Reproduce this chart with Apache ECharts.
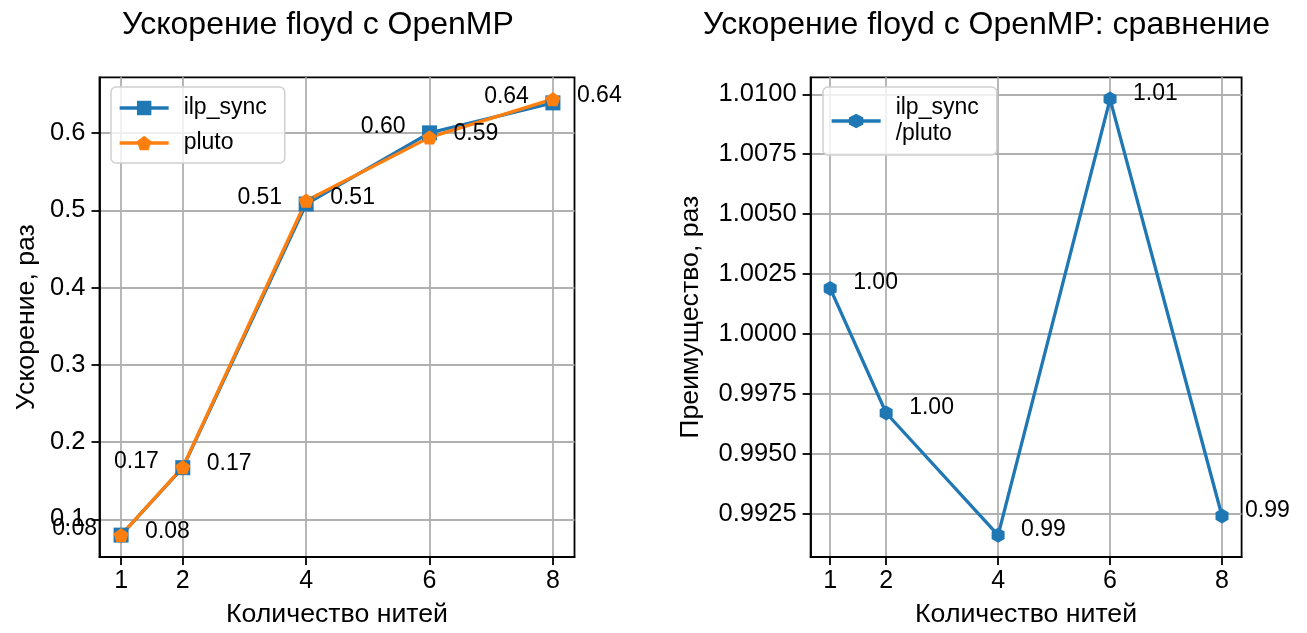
<!DOCTYPE html>
<html>
<head>
<meta charset="utf-8">
<script src="https://cdn.jsdelivr.net/npm/echarts@6/dist/echarts.min.js"></script>
<style>
  html, body { margin: 0; padding: 0; background: #fff; }
  #chart { width: 1307px; height: 633px; }
</style>
</head>
<body>
<div id="chart"></div>
<script>
// Thread counts and measured speedups
const threads = [1, 2, 4, 6, 8];
const ilpSync = [0.0796, 0.1669, 0.5082, 0.6003, 0.6391];
const pluto = [0.0795, 0.1675, 0.5125, 0.5945, 0.6440];
// ilp_sync / pluto advantage
const ratio = [1.0019, 0.9967, 0.9916, 1.0098, 0.9924];

const speedupTicks = [0.1, 0.2, 0.3, 0.4, 0.5, 0.6];
const ratioTicks = [0.9925, 0.9950, 0.9975, 1.0000, 1.0025, 1.0050, 1.0075, 1.0100];

const FONT = 'Liberation Sans';
const BLUE = '#1f77b4';
const ORANGE = '#ff7f0e';
const PENTAGON = 'path://M0,-1L0.951,-0.309L0.588,0.809L-0.588,0.809L-0.951,-0.309Z';
const HEXAGON = 'path://M0,-1L0.866,-0.5L0.866,0.5L0,1L-0.866,0.5L-0.866,-0.5Z';

// 5% autoscale margin on each side of the data
function padded(arrays) {
  const all = [].concat(...arrays);
  const lo = Math.min(...all), hi = Math.max(...all);
  const m = (hi - lo) * 0.05;
  return [lo - m, hi + m];
}
const [sMin, sMax] = padded([ilpSync, pluto]);
const [rMin, rMax] = padded([ratio]);
const [xMin, xMax] = padded([threads]);

const pairs = (ys) => threads.map((t, i) => [t, ys[i]]);

function xAxis(gridIndex) {
  return {
    type: 'value', gridIndex, min: xMin, max: xMax,
    name: 'Количество нитей', nameLocation: 'middle', nameGap: 44,
    nameTextStyle: { fontSize: 26.7, color: '#000', fontFamily: FONT },
    axisLine: { show: true, onZero: false, lineStyle: { color: '#000', width: 1.8 } },
    axisTick: { show: true, length: 8, customValues: threads, lineStyle: { color: '#000', width: 1.8 } },
    axisLabel: { customValues: threads, fontSize: 25, color: '#000', fontFamily: FONT, margin: 12 },
    splitLine: { show: true, lineStyle: { color: '#b0b0b0', width: 1.8 } }
  };
}
function yAxis(gridIndex, min, max, ticks, digits, name, gap) {
  return {
    type: 'value', gridIndex, min, max,
    name, nameLocation: 'middle', nameGap: gap,
    nameTextStyle: { fontSize: 26.7, color: '#000', fontFamily: FONT },
    axisLine: { show: true, onZero: false, lineStyle: { color: '#000', width: 1.8 } },
    axisTick: { show: true, length: 8, customValues: ticks, lineStyle: { color: '#000', width: 1.8 } },
    axisLabel: { customValues: ticks, fontSize: 25.5, color: '#000', fontFamily: FONT, margin: 14,
                 formatter: v => v.toFixed(digits) },
    splitLine: { show: true, lineStyle: { color: '#b0b0b0', width: 1.8 } }
  };
}
function valueLabel(position, dy) {
  return {
    show: true, position, distance: 16.5, offset: [0, dy],
    fontSize: 23, color: '#000', fontFamily: FONT,
    formatter: p => p.value[1].toFixed(2)
  };
}
const legendBase = {
  orient: 'vertical', itemWidth: 49, itemHeight: 18, itemGap: 9,
  lineStyle: { width: 3.3 },
  backgroundColor: 'rgba(255,255,255,0.8)', borderColor: '#d0d0d0', borderWidth: 1.5, borderRadius: 5,
  textStyle: { fontSize: 23, color: '#000', fontFamily: FONT, padding: [0, 0, 0, 10], lineHeight: 26 }
};

const chart = echarts.init(document.getElementById('chart'), null, { renderer: 'canvas' });
chart.setOption({
  animation: false,
  backgroundColor: '#fff',
  title: [
    { text: 'Ускорение floyd с OpenMP', left: 122, top: 9, padding: 0,
      textStyle: { fontSize: 32, fontWeight: 'normal', color: '#000', fontFamily: FONT } },
    { text: 'Ускорение floyd с OpenMP: сравнение', left: 703, top: 9, padding: 0,
      textStyle: { fontSize: 32, fontWeight: 'normal', color: '#000', fontFamily: FONT } }
  ],
  legend: [
    Object.assign({}, legendBase, { data: ['ilp_sync', 'pluto'], left: 111, top: 87, padding: [8, 18, 7, 7] }),
    Object.assign({}, legendBase, { data: ['ilp_sync\n/pluto'], left: 823, top: 87, padding: [8, 18, 8, 7] })
  ],
  grid: [
    { left: 99.5, top: 77.3, width: 475, height: 481, show: true, borderColor: '#000', borderWidth: 1.8 },
    { left: 810.6, top: 77.3, width: 431, height: 481, show: true, borderColor: '#000', borderWidth: 1.8 }
  ],
  xAxis: [xAxis(0), xAxis(1)],
  yAxis: [
    yAxis(0, sMin, sMax, speedupTicks, 1, 'Ускорение, раз', 59),
    yAxis(1, rMin, rMax, ratioTicks, 4, 'Преимущество, раз', 106)
  ],
  series: [
    { name: 'ilp_sync', type: 'line', xAxisIndex: 0, yAxisIndex: 0, data: pairs(ilpSync),
      symbol: 'rect', symbolSize: 15, color: BLUE,
      lineStyle: { width: 3.3, color: BLUE }, itemStyle: { color: BLUE },
      label: valueLabel('left', -6) },
    { name: 'pluto', type: 'line', xAxisIndex: 0, yAxisIndex: 0, data: pairs(pluto),
      symbol: PENTAGON, symbolKeepAspect: true, symbolSize: 15, color: ORANGE,
      lineStyle: { width: 3.3, color: ORANGE }, itemStyle: { color: ORANGE },
      label: valueLabel('right', -3.5) },
    { name: 'ilp_sync\n/pluto', type: 'line', xAxisIndex: 1, yAxisIndex: 1, data: pairs(ratio),
      symbol: HEXAGON, symbolKeepAspect: true, symbolSize: 15, color: BLUE,
      lineStyle: { width: 3.3, color: BLUE }, itemStyle: { color: BLUE },
      label: valueLabel('right', -5.5) }
  ]
});
</script>
</body>
</html>
